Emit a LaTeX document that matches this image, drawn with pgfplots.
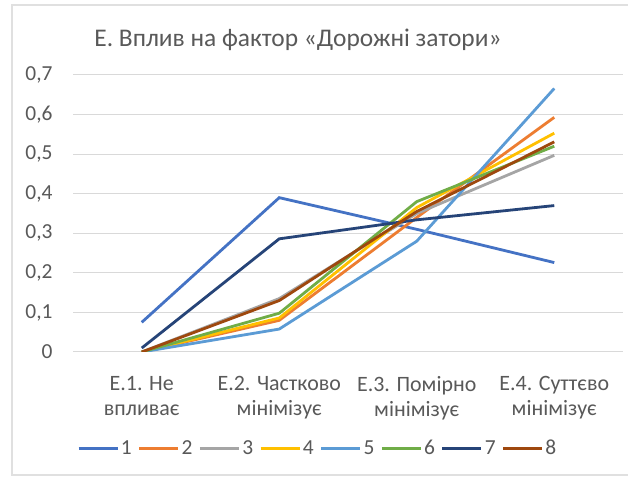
\documentclass[border=0pt]{standalone}
\usepackage{pgfplots}
\pgfplotsset{compat=1.18}
\usepackage{fontspec}
\setmainfont{Carlito}
\definecolor{c1}{HTML}{4472C4}
\definecolor{c2}{HTML}{ED7D31}
\definecolor{c3}{HTML}{A5A5A5}
\definecolor{c4}{HTML}{FFC000}
\definecolor{c5}{HTML}{5B9BD5}
\definecolor{c6}{HTML}{70AD47}
\definecolor{c7}{HTML}{264478}
\definecolor{c8}{HTML}{9E480E}
\definecolor{tgray}{HTML}{595959}
\definecolor{ggray}{HTML}{D9D9D9}
\begin{document}
\begin{tikzpicture}[x=1bp,y=1bp]
\useasboundingbox (0,0) rectangle (628,479);
\fill[white] (0,0) rectangle (628,479);
\draw[black!12, line width=1.2bp] (628,474) -- (12,474) -- (12,4) -- (628,4);
\node[text=tgray, font=\fontsize{25.5}{28}\selectfont] at (298,439) {Е. Вплив на фактор «Дорожні затори»};
\begin{axis}[
  at={(73bp,127bp)}, anchor=south west,
  scale only axis, width=550bp, height=277bp,
  xmin=-0.5, xmax=3.5, ymin=0, ymax=0.7,
  ytick={0,0.1,0.2,0.3,0.4,0.5,0.6,0.7},
  xtick={0,1,2,3},
  xticklabels={{Е.1. Не\\впливає},{Е.2. Частково\\мінімізує},{Е.3. Помірно\\мінімізує},{Е.4. Суттєво\\мінімізує}},
  xticklabel style={align=center, text=tgray, font=\fontsize{22}{25}\selectfont},
  yticklabel style={text=tgray, font=\fontsize{21.5}{24}\selectfont},
  /pgf/number format/.cd, use comma, fixed, precision=1, assume math mode=true, /pgfplots/.cd,
  major tick length=0pt,
  axis line style={draw=none},
  ymajorgrids, grid style={ggray, line width=1bp},
  yticklabel style={xshift=-17bp},
  xticklabel style={yshift=-21bp},
  legend columns=8,
  legend style={draw=none, fill=none, at={(axis description cs:0.445,-0.347)}, anchor=center,
    font=\fontsize{21.5}{24}\selectfont, text=tgray,
    /tikz/every even column/.append style={column sep=4bp}},
  legend image code/.code={\draw[#1, line width=2.8bp] (0bp,0bp) -- (39bp,0bp);},
  every axis plot/.append style={line width=2.8bp, no markers},
]
\addplot[c1] coordinates {(0,0.075) (1,0.39) (2,0.31) (3,0.226)};
\addplot[c2] coordinates {(0,0) (1,0.08) (2,0.34) (3,0.593)};
\addplot[c3] coordinates {(0,0) (1,0.135) (2,0.35) (3,0.497)};
\addplot[c4] coordinates {(0,0) (1,0.086) (2,0.365) (3,0.553)};
\addplot[c5] coordinates {(0,0) (1,0.058) (2,0.28) (3,0.666)};
\addplot[c6] coordinates {(0,0) (1,0.098) (2,0.38) (3,0.52)};
\addplot[c7] coordinates {(0,0.01) (1,0.286) (2,0.334) (3,0.37)};
\addplot[c8] coordinates {(0,0) (1,0.13) (2,0.355) (3,0.531)};
\legend{1,2,3,4,5,6,7,8}
\end{axis}
\end{tikzpicture}
\end{document}
